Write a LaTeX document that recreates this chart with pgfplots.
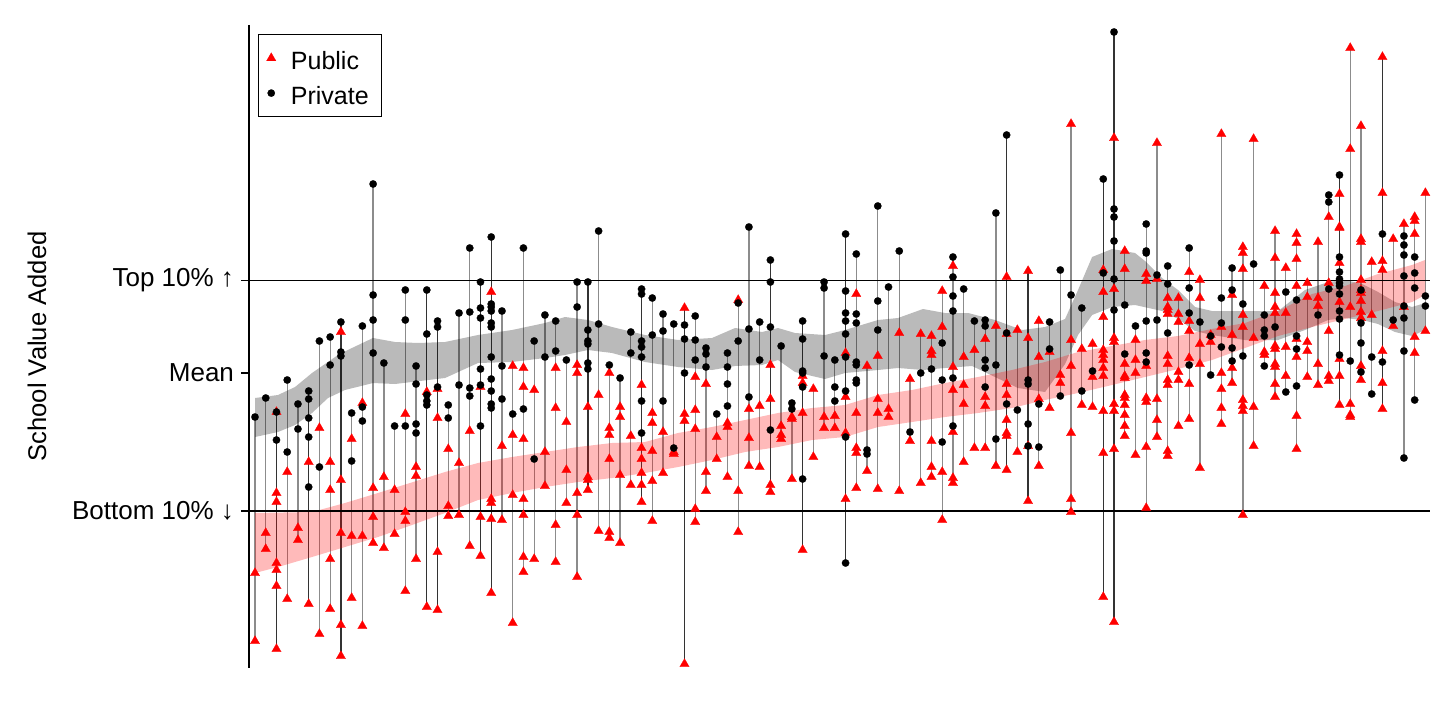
\documentclass[border=0pt]{standalone}
\usepackage{pgfplots}
\pgfplotsset{compat=1.18}
\usepackage{pgfplotstable}
\usepackage{fontspec}
\setmainfont{Liberation Sans}
\pgfplotsset{dotlegend/.style={legend image code/.code={\draw[##1] plot coordinates {(0bp,0bp)};}}}
\pgfplotstableread{
x lo hi
0 417 641
1 398 549
2 412 649
3 380 599
4 404 540
5 391 604
6 341 634
7 337 609
8 322 656
9 413 598
10 326 626
11 184 543
12 363 548
13 426 534
14 290 591
15 366 559
16 290 607
17 321 610
18 405 516
19 313 515
20 248 546
21 282 556
22 237 593
23 311 520
24 366 623
25 248 572
26 341 559
27 315 486
28 321 562
29 360 503
30 282 577
31 282 490
32 231 531
33 365 538
34 378 543
35 332 485
36 289 502
37 298 521
38 314 473
39 324 454
40 308 664
41 316 522
42 348 491
43 414 459
44 353 477
45 300 532
46 227 466
47 322 467
48 260 492
49 346 439
50 403 479
51 321 550
52 389 457
53 282 428
54 360 428
55 234 563
56 254 488
57 366 471
58 206 489
59 287 417
60 251 491
61 379 441
62 334 483
63 336 477
64 291 520
65 257 483
66 289 462
67 321 448
68 320 448
69 213 466
70 135 470
71 330 452
72 271 501
73 321 466
74 322 408
75 270 396
76 124 512
77 308 405
78 344 407
79 179 597
80 32 622
81 251 436
82 326 455
83 224 508
84 143 437
85 266 456
86 298 426
87 248 419
88 280 468
89 335 375
90 134 424
91 268 383
92 247 515
93 139 446
94 286 366
95 231 397
96 268 392
97 234 449
98 283 377
99 242 385
100 195 381
101 175 405
102 48 417
103 126 380
104 262 394
105 57 409
106 239 326
107 224 458
108 217 400
109 193 331
}\ranges
\pgfplotstableread{
x lo hi
2 412 649
5 391 604
8 322 656
16 290 607
17 321 610
21 282 556
22 237 593
31 282 490
36 289 502
40 308 664
48 260 492
51 321 550
55 234 563
70 135 470
72 271 501
79 179 597
80 32 622
101 175 405
105 57 409
}\darkranges
\begin{document}
\begin{tikzpicture}
\path[use as bounding box] (0,0) rectangle (728bp,364bp);
\begin{axis}[
  at={(124.5bp,30bp)}, anchor=south west,
  scale only axis, width=590.5bp, height=321.5bp,
  xmin=-0.559, xmax=109.43,
  ymin=25, ymax=668, y dir=reverse,
  axis x line=none, axis y line*=left,
  axis line style={black, line width=0.6bp},
  clip=false,
  ytick={280.5,373,511},
  yticklabels={Top 10\% ↑, Mean, Bottom 10\% ↓},
  tick align=outside, major tick length=4bp,
  tick style={black, line width=0.6bp},
  tick label style={font=\fontsize{13bp}{15bp}\selectfont},
  ylabel={School Value Added},
  ylabel style={at={(axis description cs:-0.1795,0.5)}, anchor=center, font=\fontsize{12.8bp}{15bp}\selectfont},
  legend style={at={(axis description cs:0.0076,0.986)}, anchor=north west,
    draw=black, line width=0.6bp, font=\fontsize{12.5bp}{14bp}\selectfont,
    inner xsep=4bp, inner ysep=3bp, row sep=0bp,
    nodes={text height=14.5bp, text depth=3bp, inner ysep=0bp, inner xsep=2.5bp},
    /tikz/every odd column/.append style={column sep=5bp}},
  legend cell align=left,
]
% range lines
\addplot[draw=none, mark=none, forget plot,
  error bars/.cd, y dir=plus, y explicit, error mark=none,
  error bar style={draw=black!45, line width=0.65bp, solid}]
  table[x=x, y=lo, y error expr=\thisrow{hi}-\thisrow{lo}] {\ranges};
\addplot[draw=none, mark=none, forget plot,
  error bars/.cd, y dir=plus, y explicit, error mark=none,
  error bar style={draw=black!80, line width=0.65bp, solid}]
  table[x=x, y=lo, y error expr=\thisrow{hi}-\thisrow{lo}] {\darkranges};
% private band
\addplot[fill=black, fill opacity=0.27, draw=none, forget plot] coordinates {
(0,398)(2.14,395)(3.73,387)(5.31,373)(7.73,355)(9.03,348)(10.99,338)(13.04,342)(15.18,343)(17.7,342)(20.77,335)(23.94,330)(27.01,323)(28.87,317)(31.01,320)(33.25,327)(36.32,335)(39.40,340)(42.56,338)(44.71,328)(47.22,332)(48.71,328)(50.29,333)(53.09,335)(54.95,330)(58.02,320)(59.89,318)(62.21,309)(64.26,313)(66.41,313)(68.92,320)(71.44,330)(73.58,327)(75.44,319)(76.65,290)(77.96,257)(79.82,249)(81.96,253)(82.89,261)(84.47,278)(85.96,290)(87.55,307)(89.13,311)(92.2,311)(95.28,311)(97.79,290)(99.94,282)(101.52,280)(103.1,284)(104.59,292)(106.17,302)(107.76,307)(108.97,303)
(108.97,330)(107.76,336)(106.17,332)(104.59,324)(103.1,320)(101.52,318)(99.94,320)(97.79,330)(95.28,340)(92.2,340)(89.13,335)(87.55,331)(85.96,319)(84.47,311)(81.96,305)(79.82,307)(77.96,315)(76.65,335)(75.44,364)(73.58,392)(71.06,388)(68.92,377)(66.78,366)(64.26,368)(62.21,370)(59.89,368)(58.02,370)(54.95,373)(53.09,379)(50.29,372)(48.71,360)(47.22,365)(44.71,366)(42.56,370)(39.40,367)(36.32,362)(33.25,353)(31.01,350)(28.87,355)(27.01,358)(23.94,362)(20.77,363)(17.7,378)(13.04,384)(10.99,383)(8.38,390)(6.80,398)(5.31,413)(3.73,425)(2.14,432)(0,437)
} -- cycle;
% public band
\addplot[fill=red, fill opacity=0.27, draw=none, forget plot] coordinates {
(0,513)(5.31,512)(8.38,503)(11.46,493)(17.7,472)(20.77,463)(23.94,457)(27.01,452)(30.08,447)(33.25,443)(36.32,442)(39.4,433)(42.56,427)(45.64,420)(48.71,413)(51.88,408)(54.95,405)(58.02,395)(61.19,390)(64.26,383)(67.34,377)(70.5,370)(73.58,362)(76.65,352)(79.82,346)(82.89,340)(85.96,336)(89.13,329)(92.2,323)(95.28,311)(98.44,294)(101.52,286)(104.59,274)(107.76,265)(108.97,260)
(108.97,295)(107.76,302)(104.59,311)(101.52,319)(98.44,327)(95.28,336)(92.2,348)(89.13,360)(85.96,369)(82.89,377)(79.82,385)(76.65,393)(73.58,400)(70.5,408)(67.34,413)(64.26,417)(61.19,422)(58.02,427)(54.95,437)(51.88,440)(48.71,447)(45.64,452)(42.56,460)(39.4,467)(36.32,473)(33.25,478)(30.08,482)(27.01,487)(23.94,493)(20.77,500)(17.7,513)(14.62,525)(11.46,537)(8.38,547)(5.31,557)(2.14,567)(0,573)
} -- cycle;
% reference lines
\addplot[black, line width=0.6bp, forget plot] coordinates {(-0.559,280.5) (109.43,280.5)};
\addplot[black, line width=0.6bp, forget plot] coordinates {(-0.559,511) (109.43,511)};
% public schools
\addplot[only marks, mark=triangle*, mark size=2.7bp, red, mark options={draw=red, fill=red, line width=0.1bp}, dotlegend] coordinates {
(0,573)(0,641)(1,533)(1,549)(2,412)(2,493)(2,502)(2,563)(2,570)(2,586)(2,649)(3,472)(3,599)(4,528)(4,540)(5,462)(5,604)(6,428)(6,634)
(7,462)(7,490)(7,559)(7,609)(8,332)(8,480)(8,533)(8,625)(8,656)(9,439)(9,536)(9,598)(10,403)(10,536)(10,626)(11,488)(11,517)(11,543)
(12,477)(12,548)(13,490)(13,534)(14,414)(14,512)(14,521)(14,591)(15,467)(15,476)(15,559)(16,392)(16,607)(17,389)(17,418)(17,552)(17,610)
(18,449)(18,506)(18,516)(19,463)(19,515)(20,431)(20,546)(21,387)(21,517)(21,556)(22,292)(22,499)(22,503)(22,519)(22,593)(23,446)(23,520)
(24,366)(24,435)(24,495)(24,623)(25,368)(25,387)(25,439)(25,499)(25,515)(25,557)(25,572)(26,390)(26,559)(27,452)(27,486)
(28,368)(28,408)(28,525)(28,562)(29,422)(29,470)(29,503)(30,365)(30,373)(30,493)(30,515)(30,577)(31,407)(31,477)(31,480)(31,490)
(32,395)(32,531)(33,373)(33,428)(33,435)(33,459)(33,532)(33,538)(34,407)(34,417)(34,475)(34,543)(35,436)(35,485)
(36,385)(36,448)(36,459)(36,473)(36,485)(36,502)(37,413)(37,423)(37,451)(37,481)(37,521)(38,432)(38,473)(39,452)(39,454)
(40,308)(40,414)(40,421)(40,664)(41,377)(41,410)(41,429)(41,509)(41,522)(42,384)(42,472)(42,491)(43,437)(43,459)(44,423)(44,427)(44,477)
(45,300)(45,491)(45,532)(46,409)(46,438)(46,466)(47,406)(47,467)(48,365)(48,399)(48,485)(48,492)(49,426)(49,435)(49,439)
(50,417)(50,419)(50,479)(51,376)(51,383)(51,413)(51,550)(52,389)(52,457)(53,417)(53,428)(54,416)(54,428)
(55,353)(55,397)(55,433)(55,499)(56,294)(56,413)(56,448)(56,453)(56,488)(57,366)(57,471)(58,356)(58,399)(58,413)(58,489)
(59,409)(59,417)(60,333)(60,491)(61,379)(61,441)(62,334)(62,483)(63,336)(63,351)(63,355)(63,441)(63,467)(63,477)
(64,291)(64,327)(64,472)(64,520)(65,266)(65,367)(65,390)(65,432)(65,478)(65,483)(66,357)(66,385)(66,404)(66,462)(67,350)(67,448)
(68,339)(68,397)(68,406)(68,448)(69,326)(69,466)(70,277)(70,334)(70,384)(70,395)(70,420)(70,433)(70,436)(70,470)(71,330)(71,452)
(72,271)(72,338)(72,446)(72,501)(73,321)(73,357)(73,399)(73,466)(74,352)(74,408)(75,375)(75,383)
(76,124)(76,340)(76,366)(76,433)(76,499)(76,512)(77,349)(77,405)(78,344)(78,377)(78,407)
(79,270)(79,292)(79,317)(79,350)(79,355)(79,360)(79,368)(79,376)(79,411)(79,453)(79,597)
(80,138)(80,289)(80,338)(80,342)(80,404)(80,411)(80,449)(80,622)
(81,251)(81,269)(81,364)(81,376)(81,378)(81,395)(81,398)(81,405)(81,415)(81,426)(81,436)
(82,340)(82,360)(82,373)(82,455)(83,274)(83,281)(83,366)(83,398)(83,402)(83,447)(83,508)(84,143)(84,279)(84,399)(84,420)(84,437)
(85,298)(85,307)(85,310)(85,314)(85,356)(85,364)(85,380)(85,385)(85,451)(85,456)(86,298)(86,314)(86,322)(86,372)(86,380)(86,426)
(87,272)(87,321)(87,331)(87,358)(87,384)(87,419)(88,280)(88,298)(88,344)(88,364)(88,468)(89,335)(89,342)
(90,134)(90,327)(90,373)(90,389)(90,408)(90,424)(91,295)(91,335)(91,368)(91,383)
(92,247)(92,253)(92,269)(92,315)(92,327)(92,400)(92,406)(92,411)(92,515)(93,139)(93,338)(93,407)(93,446)(94,286)(94,352)(94,355)
(95,231)(95,258)(95,293)(95,307)(95,313)(95,346)(95,349)(95,364)(95,367)(95,384)(95,397)(96,268)(96,313)(96,347)(96,376)
(97,234)(97,243)(97,259)(97,286)(97,339)(97,357)(97,416)(97,449)(98,283)(98,297)(98,342)(98,351)(98,377)
(99,242)(99,298)(99,306)(99,364)(99,385)(100,217)(100,283)(100,331)(100,376)(100,381)
(101,194)(101,227)(101,228)(101,263)(101,302)(101,359)(101,376)(101,405)(102,48)(102,149)(102,307)(102,404)(102,415)(102,417)
(103,126)(103,239)(103,242)(103,280)(103,290)(103,293)(103,301)(103,312)(103,318)(103,366)(103,380)(104,262)(104,315)
(105,57)(105,193)(105,261)(105,270)(105,351)(105,383)(105,409)(106,239)(106,326)(107,224)(107,307)
(108,217)(108,221)(108,234)(108,337)(108,353)(109,193)(109,331)
};
% private schools
\addplot[only marks, mark=*, mark size=1.85bp, black, mark options={draw=black, fill=black, line width=0.1bp}, dotlegend] coordinates {
(0,417)(1,398)(2,412)(2,440)(3,380)(3,452)(4,404)(4,429)(5,391)(5,399)(5,418)(5,437)(5,487)(6,341)(6,467)(7,337)(7,365)
(8,322)(8,352)(8,356)(9,413)(9,461)(10,326)(10,407)(10,421)(11,184)(11,295)(11,320)(11,353)(12,363)(13,426)
(14,290)(14,320)(14,426)(15,366)(15,384)(15,424)(15,433)(16,290)(16,334)(16,395)(16,401)(16,405)(17,321)(17,327)(17,387)
(18,405)(18,418)(19,313)(19,385)(20,248)(20,312)(20,388)(20,396)(21,282)(21,308)(21,318)(21,369)(21,385)(21,426)
(22,237)(22,304)(22,307)(22,311)(22,323)(22,327)(22,357)(22,379)(22,391)(22,404)(22,408)(23,311)(23,366)(23,399)
(24,414)(25,248)(25,409)(26,341)(26,459)(27,315)(27,357)(28,321)(28,351)(29,360)(30,282)(30,307)
(31,282)(31,330)(31,341)(31,344)(31,363)(31,369)(32,231)(32,324)(33,365)(34,378)(35,332)(35,353)
(36,289)(36,294)(36,341)(36,347)(36,357)(36,401)(36,433)(37,298)(37,335)(38,314)(38,331)(38,401)(39,324)(39,448)
(40,325)(40,339)(40,373)(41,316)(41,340)(41,360)(42,348)(42,354)(42,367)(43,414)(44,353)(44,367)(44,384)(44,406)
(45,303)(45,341)(46,227)(46,329)(46,397)(47,322)(47,360)(48,260)(48,282)(48,327)(48,430)(49,346)(50,403)(50,409)
(51,321)(51,339)(51,371)(51,373)(51,387)(51,479)(53,282)(53,288)(53,356)(54,360)(54,387)(54,401)
(55,234)(55,291)(55,313)(55,321)(55,334)(55,357)(55,391)(55,437)(55,563)(56,254)(56,314)(56,323)(56,362)(56,365)(56,380)(56,383)
(57,450)(57,454)(58,206)(58,301)(58,330)(59,287)(60,251)(61,432)(62,373)(63,369)(64,343)(64,380)(64,442)
(65,257)(65,277)(65,296)(65,311)(65,378)(65,426)(66,289)(67,321)(68,320)(68,326)(68,360)(68,368)(68,387)
(69,213)(69,365)(69,439)(70,135)(70,333)(70,404)(71,410)(72,380)(72,384)(72,424)(72,446)(73,404)(73,447)
(74,322)(74,349)(75,270)(75,396)(76,295)(77,308)(77,391)(78,371)(79,179)(79,273)
(80,32)(80,209)(80,217)(80,241)(80,279)(80,310)(81,305)(81,354)(82,326)(83,224)(83,251)(83,253)(83,321)(83,353)(83,362)
(84,275)(84,320)(85,266)(85,284)(85,333)(87,248)(87,288)(87,313)(87,365)(88,322)(89,336)(89,375)
(90,298)(90,323)(90,347)(91,268)(91,290)(91,348)(91,361)(92,304)(92,356)(93,264)(94,315)(94,330)(94,336)(94,366)
(95,327)(96,292)(96,392)(97,300)(97,336)(97,349)(97,386)(99,315)(100,195)(100,202)(100,289)
(101,175)(101,257)(101,272)(101,279)(101,283)(101,286)(101,294)(101,311)(101,319)(101,355)(102,361)
(103,290)(103,323)(103,343)(103,372)(104,357)(104,394)(105,234)(105,362)(106,320)
(107,236)(107,245)(107,255)(107,276)(107,306)(107,318)(107,351)(107,458)(108,257)(108,273)(108,288)(108,400)(109,296)(109,306)
};
\legend{Public, Private}
\end{axis}
\end{tikzpicture}
\end{document}
